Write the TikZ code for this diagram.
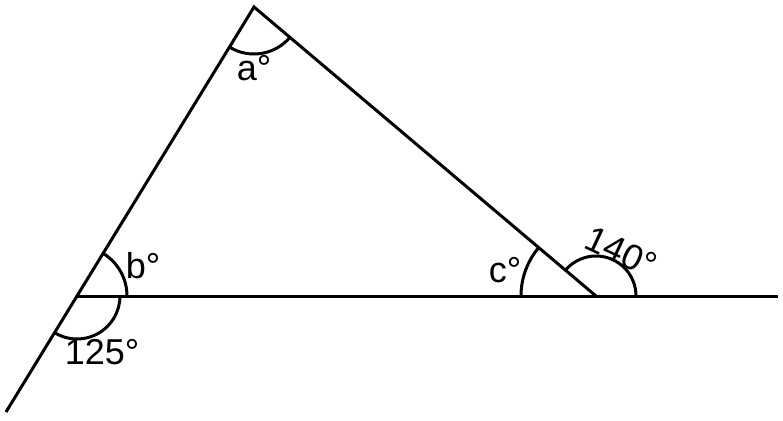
\documentclass[tikz,border=0pt]{standalone}
\usepackage{fontspec}
\setmainfont{Liberation Sans}
\usetikzlibrary{angles}
\newcommand{\widthline}{1.5pt}
\tikzset{
    sideline/.style={line width=\widthline},
    anglearc/.style={draw, line width=\widthline},
    anglelabel/.style={font=\fontsize{18}{20}\selectfont, inner sep=0pt}
}
\begin{document}
\begin{tikzpicture}[x=0.5pt, y=0.5pt]
    \useasboundingbox (0,0) rectangle (783,420);

    % triangle corners and ends of the lines
    \coordinate (top) at (254,413);
    \coordinate (left) at (77,124);
    \coordinate (right) at (596,124);
    \coordinate (base-end) at (778,124);
    \coordinate (side-end) at (6,8);

    \draw[sideline] (side-end) -- (left) -- (top) -- (right);
    \draw[sideline] (left) -- (base-end);

    % angle arcs
    \pic[anglearc, angle radius=23.5pt] {angle = left--top--right};
    \pic[anglearc, angle radius=25pt] {angle = right--left--top};
    \pic[anglearc, angle radius=21.5pt] {angle = side-end--left--right};
    \pic[anglearc, angle radius=37.5pt] {angle = top--right--left};
    \pic[anglearc, angle radius=20pt] {angle = base-end--right--top};

    % angle labels
    \node[anglelabel] (label-a) at (254,352) {a°};
    \node[anglelabel] (label-b) at (143,154) {b°};
    \node[anglelabel] (label-ext-left) at (102,68) {125°};
    \node[anglelabel] (label-c) at (505,150) {c°};
    \node[anglelabel, rotate=-25] (label-ext-right) at (621,168) {140°};
\end{tikzpicture}
\end{document}
